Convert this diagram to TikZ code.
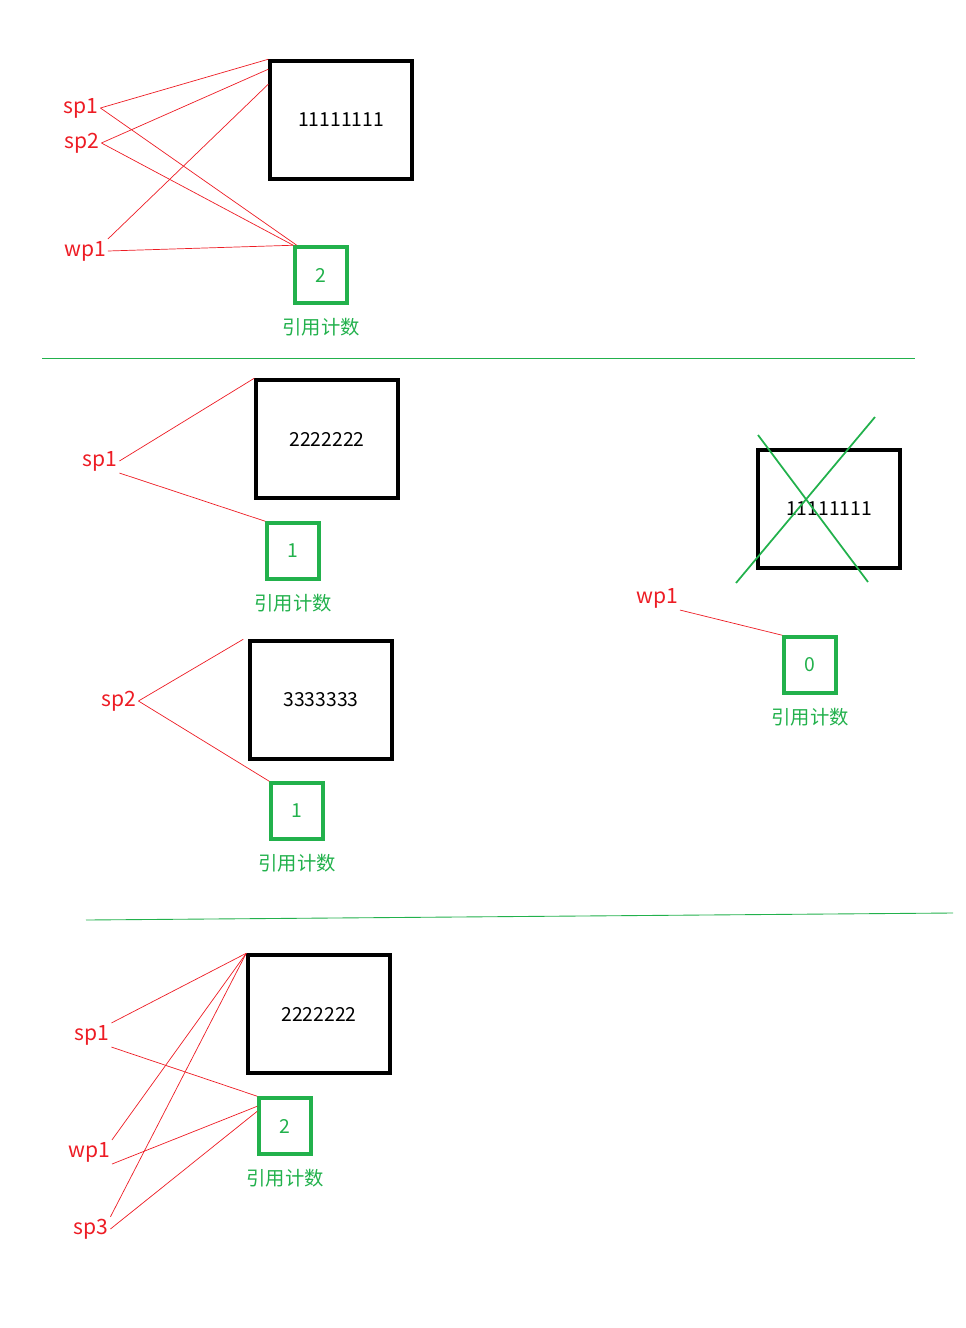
\documentclass[tikz,border=0pt]{standalone}
\usepackage{fontspec}
\setmainfont{Noto Sans CJK SC}
\usetikzlibrary{positioning}
\definecolor{gr}{RGB}{34,177,76}
\definecolor{rd}{RGB}{237,28,36}
\tikzset{
  obj/.style={draw, line width=2pt, minimum width=2.84cm, minimum height=2.36cm, font=\fontsize{11}{13}\selectfont},
  cnt/.style={draw=gr, line width=2pt, text=gr, minimum width=1.04cm, minimum height=1.12cm, font=\fontsize{11}{13}\selectfont},
  lbl/.style={text=gr, font=\fontsize{11}{13}\selectfont},
  ptr/.style={text=rd, font=\fontsize{12}{14}\selectfont, inner sep=1pt},
  ref/.style={draw=rd, line width=0.4pt},
  sep/.style={draw=gr, line width=0.5pt}
}
\begin{document}
\begin{tikzpicture}[x=0.02cm, y=-0.02cm]
      \useasboundingbox (0,0) rectangle (965,1328);
      % first state
      \node[obj] (o1) at (341,120) {11111111};
      \node[cnt] (c1) at (321,275) {2};
      \node[lbl, below=0.15cm of c1] (t1) {引用计数};
      \node[ptr] (p1) at (81,108) {sp1};
      \node[ptr] (p2) at (82,143) {sp2};
      \node[ptr] (w1) at (85,251) {wp1};
      \draw[ref] (p1.east) -- (o1.north west);
      \draw[ref] (p1.east) -- ([xshift=2pt]c1.north west);
      \draw[ref] (p2.east) -- ([yshift=-0.2cm]o1.north west);
      \draw[ref] (p2.east) -- (c1.north west);
      \draw[ref] (w1.north east) -- ([yshift=-0.5cm]o1.north west);
      \draw[ref] (w1.east) -- (c1.north west);
      \draw[sep] (42,358) coordinate (l1) -- (915,358) coordinate (r1);
      % second state
      \node[obj] (o2) at (327,439) {2222222};
      \node[cnt] (c2) at (293,551) {1};
      \node[lbl, below=0.15cm of c2] (t2) {引用计数};
      \node[ptr] (q1) at (100,461) {sp1};
      \draw[ref] (q1.east) -- (o2.north west);
      \draw[ref] (q1.south east) -- (c2.north west);
      \node[obj] (o3) at (321,700) {3333333};
      \node[cnt] (c3) at (297,811) {1};
      \node[lbl, below=0.15cm of c3] (t3) {引用计数};
      \node[ptr] (q2) at (119,701) {sp2};
      \draw[ref] (q2.east) -- ([xshift=-0.1cm]o3.north west);
      \draw[ref] (q2.east) -- (c3.north west);
      \node[obj] (o4) at (829,509) {11111111};
      \draw[gr, line width=1pt] (758,435) -- (868,582);
      \draw[gr, line width=1pt] (875,417) -- (736,583);
      \node[cnt] (c4) at (810,665) {0};
      \node[lbl, below=0.15cm of c4] (t4) {引用计数};
      \node[ptr] (w2) at (657,598) {wp1};
      \draw[ref] (w2.south east) -- (c4.north west);
      \draw[sep] (86,920) coordinate (l2) -- (953,913) coordinate (r2);
      % third state
      \node[obj] (o5) at (319,1014) {2222222};
      \node[cnt] (c5) at (285,1126) {2};
      \node[lbl, below=0.15cm of c5] (t5) {引用计数};
      \node[ptr] (u1) at (92,1035) {sp1};
      \node[ptr] (u2) at (89,1152) {wp1};
      \node[ptr] (u3) at (91,1229) {sp3};
      \draw[ref] (u1.north east) -- (o5.north west);
      \draw[ref] (u1.south east) -- (c5.north west);
      \draw[ref] (u2.north east) -- (o5.north west);
      \draw[ref] (u2.south east) -- ([yshift=-0.2cm]c5.north west);
      \draw[ref] (u3.north east) -- (o5.north west);
      \draw[ref] (u3.east) -- ([yshift=-0.3cm]c5.north west);
\end{tikzpicture}
\end{document}
